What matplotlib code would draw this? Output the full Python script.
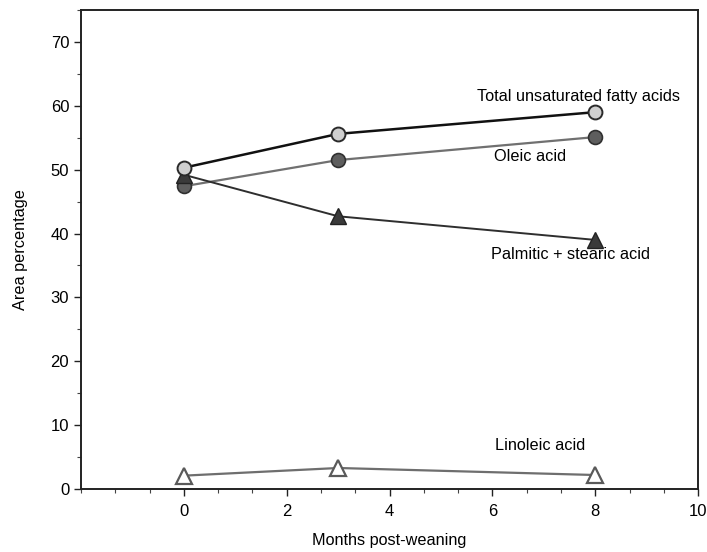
import matplotlib
matplotlib.use("Agg")
import matplotlib.pyplot as plt
from matplotlib.ticker import AutoMinorLocator, MultipleLocator

plt.rcParams['font.family'] = ['Liberation Sans', 'DejaVu Sans']

#### Data
months = [0, 3, 8]
total_unsat = [50.3, 55.6, 59.0]
oleic = [47.4, 51.5, 55.1]
palm_stear = [49.2, 42.7, 39.0]
linoleic = [2.1, 3.3, 2.2]

labels = ["Total unsaturated fatty acids", "Oleic acid",
          "Palmitic + stearic acid", "Linoleic acid"]

fig = plt.figure(figsize=(7.07, 5.52), dpi=100)
ax = fig.add_axes([0.1146, 0.114, 0.873, 0.868])

ax.plot(months, linoleic, color="#6e6e6e", lw=1.6, marker="^", ms=11,
        mfc="white", mec="#5a5a5a", mew=1.6, zorder=3)
ax.plot(months, oleic, color="#707070", lw=1.6, marker="o", ms=10,
        mfc="#5e5e5e", mec="#303030", mew=1.2, zorder=3)
ax.plot(months, palm_stear, color="#2e2e2e", lw=1.4, marker="^", ms=11,
        mfc="#3a3a3a", mec="#222222", mew=1.0, zorder=4)
ax.plot(months, total_unsat, color="#111111", lw=1.8, marker="o", ms=10,
        mfc="#cfcfcf", mec="#2a2a2a", mew=1.4, zorder=5)

# curve labels
fs = 11.7
ax.text(7.67, 61.5, labels[0], ha="center", va="center", fontsize=fs)
ax.text(6.74, 52.0, labels[1], ha="center", va="center", fontsize=fs)
ax.text(7.51, 36.7, labels[2], ha="center", va="center", fontsize=fs)
ax.text(6.93, 6.8, labels[3], ha="center", va="center", fontsize=fs)

ax.set_xlim(-2, 10)
ax.set_ylim(0, 75)
ax.set_xticks([0, 2, 4, 6, 8, 10])
ax.set_yticks([0, 10, 20, 30, 40, 50, 60, 70])
ax.xaxis.set_minor_locator(AutoMinorLocator(3))
ax.yaxis.set_minor_locator(MultipleLocator(5))
ax.tick_params(which="major", direction="out", length=5, width=1.0,
               labelsize=12, color="#222222")
ax.tick_params(which="minor", direction="out", length=3, width=0.8,
               color="#444444")
ax.tick_params(axis="x", pad=6)

for s in ax.spines.values():
    s.set_linewidth(1.4)
    s.set_color("#222222")

ax.set_xlabel("Months post-weaning", fontsize=fs, labelpad=10)
ax.set_ylabel("Area percentage", fontsize=fs, labelpad=16)

fig.savefig("out.png", dpi=100)
